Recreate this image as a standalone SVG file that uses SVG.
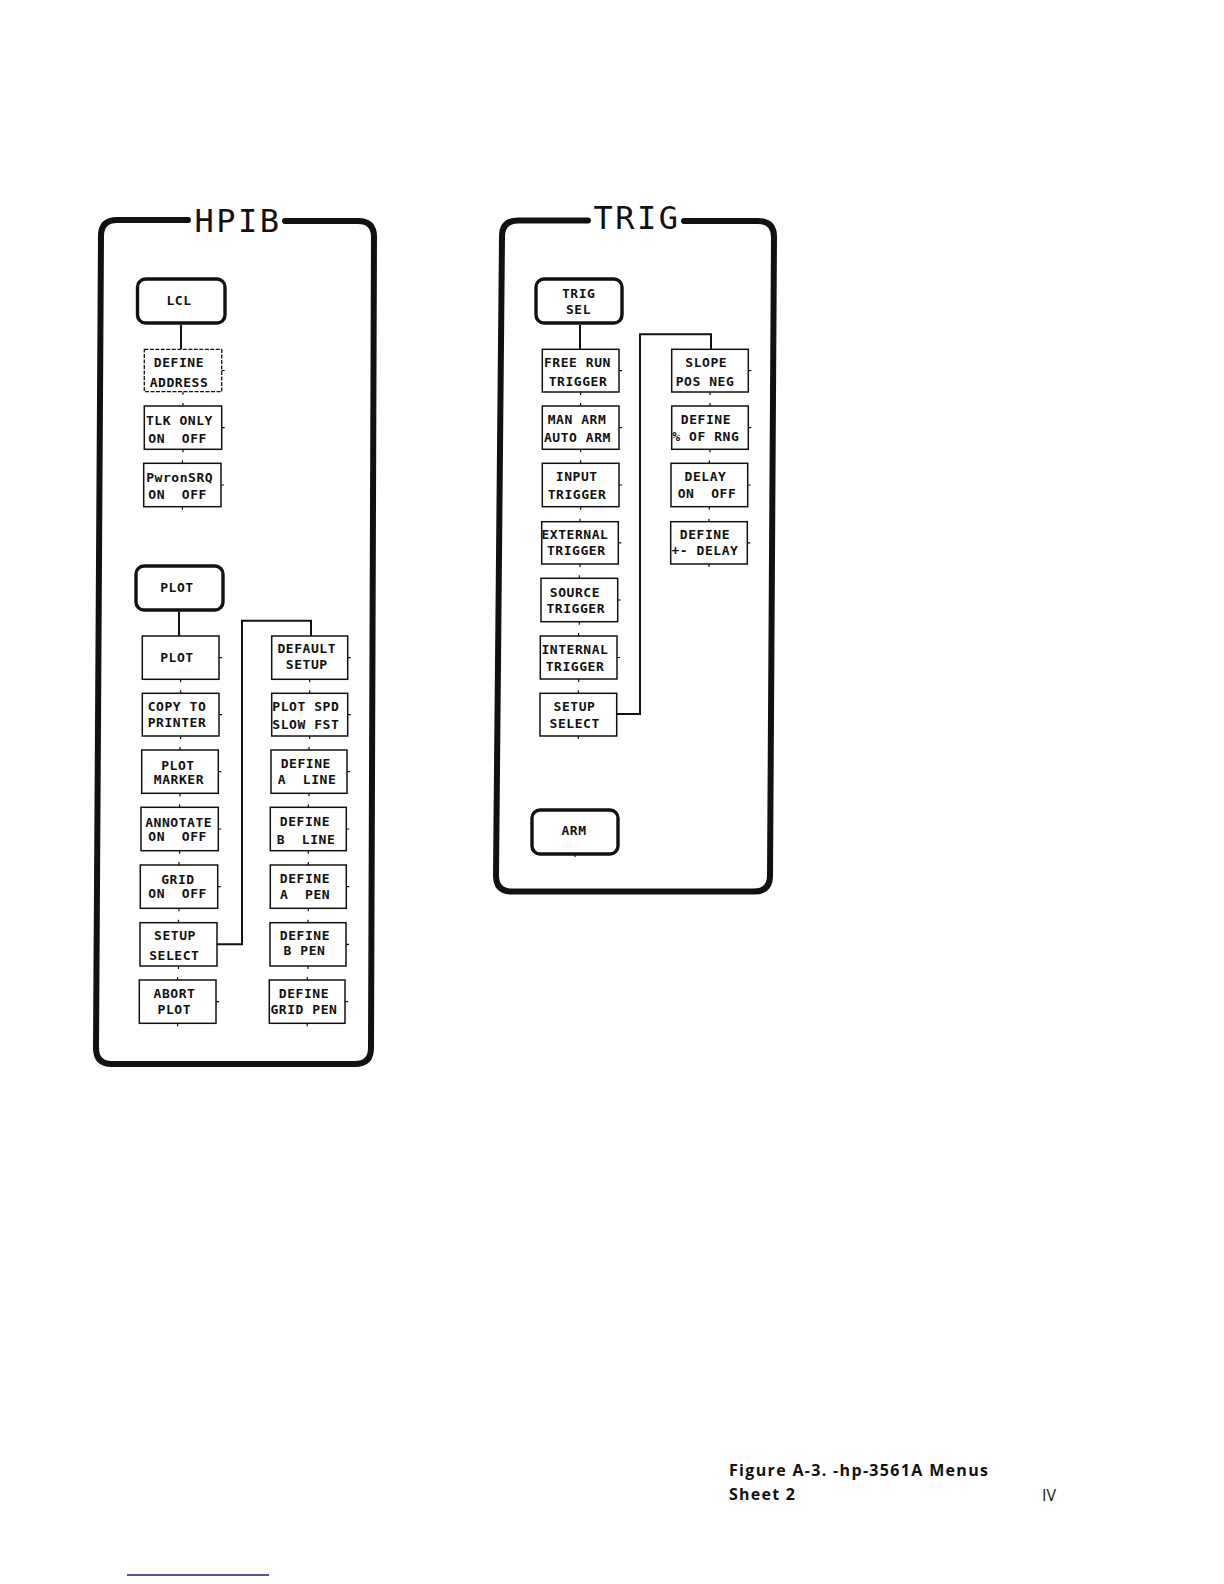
<svg xmlns="http://www.w3.org/2000/svg" width="1224" height="1584" viewBox="0 0 1224 1584">
<style>
.frame{fill:none;stroke:#111;stroke-width:6;stroke-linecap:round;stroke-linejoin:round}
.title{font-family:"DejaVu Sans Mono",monospace;font-size:32px;fill:#111;text-anchor:middle;letter-spacing:2.5px}
.hdr{fill:#fff;stroke:#111;stroke-width:3.4}
.box{fill:#fff;stroke:#111;stroke-width:1.5}
.dbox{fill:#fff;stroke:#111;stroke-width:1.3;stroke-dasharray:4 1.5}
.tick{fill:none;stroke:#111;stroke-width:1.2}
.lbl{font-family:"DejaVu Sans Mono",monospace;font-weight:bold;font-size:13px;letter-spacing:0.55px;fill:#111;text-anchor:middle;white-space:pre}
.wire{fill:none;stroke:#111;stroke-width:2}
.cap{font-family:"Open Sans","Liberation Sans",sans-serif;font-weight:bold;font-size:16px;fill:#111}
.capn{font-family:"Open Sans","Liberation Sans",sans-serif;font-weight:normal;font-size:16px;fill:#111}
</style>
<rect width="1224" height="1584" fill="#fff"/>

<g id="hpib-panel">
<path class="frame" d="M188,220 L117,220 Q101,220 101,236 L96,1048 Q96,1064 112,1064 L355,1064 Q371,1064 371,1048 L374,237 Q374,221 358,221 L285,221"/>
<text class="title" x="238" y="231.5">HPIB</text>
</g>

<g id="trig-panel">
<path class="frame" d="M588,220.5 L518,220.5 Q502,220.5 502,236.5 L496,875.5 Q496,891.5 512,891.5 L754,891.5 Q770,891.5 770,875.5 L774,237 Q774,221 758,221 L684,221"/>
<text class="title" x="637" y="228.5">TRIG</text>
</g>

<g id="connectors">
<path class="wire" d="M181,325 V349.5"/>
<path class="wire" d="M179,611.5 V636"/>
<path class="wire" d="M215,944.3 H242 V620.7 H311 V636"/>
<path class="wire" d="M580,325 V349.5"/>
<path class="wire" d="M615,714 H640 V334.3 H711 V349.5"/>
</g>

<g id="node-lcl">
<rect class="hdr" x="137.5" y="279" width="87.5" height="44" rx="8"/>
<text class="lbl" x="179" y="305">LCL</text>
</g>
<g id="node-define-address">
<rect class="dbox" x="144.3" y="349.3" width="77.4" height="42.4"/>
<path class="tick" d="M221.7,370.5 h3 M183,391.7 v3"/>
<text class="lbl" x="179" y="367">DEFINE</text>
<text class="lbl" x="179" y="387">ADDRESS</text>
</g>
<g id="node-tlk-only">
<rect class="box" x="144.3" y="406" width="77.4" height="43.3"/>
<path class="tick" d="M183,403 v3 M221.7,427.6 h3 M183,449.3 v3"/>
<text class="lbl" x="179.5" y="424.5">TLK ONLY</text>
<text class="lbl" x="177.6" y="442.5" xml:space="preserve">ON  OFF</text>
</g>
<g id="node-pwronsrq">
<rect class="box" x="143.7" y="463.3" width="77.3" height="43.4"/>
<path class="tick" d="M182.4,460.3 v3 M221,485 h3 M182.4,506.7 v3"/>
<text class="lbl" x="179.7" y="481.5">PwronSRQ</text>
<text class="lbl" x="177.6" y="499" xml:space="preserve">ON  OFF</text>
</g>

<g id="node-plot-menu">
<rect class="hdr" x="136" y="566" width="87" height="44" rx="8"/>
<text class="lbl" x="177" y="591.5">PLOT</text>
</g>
<g id="node-plot">
<rect class="box" x="142.3" y="636" width="76.7" height="43.3"/>
<path class="tick" d="M219,657.6 h3 M180.6,679.3 v3"/>
<text class="lbl" x="177" y="662">PLOT</text>
</g>
<g id="node-copy-to-printer">
<rect class="box" x="142.3" y="693.3" width="76.7" height="42.7"/>
<path class="tick" d="M180.6,690.3 v3 M219,714.6 h3 M180.6,736 v3"/>
<text class="lbl" x="177" y="711">COPY TO</text>
<text class="lbl" x="177" y="727">PRINTER</text>
</g>
<g id="node-plot-marker">
<rect class="box" x="141.7" y="750" width="76.6" height="43.3"/>
<path class="tick" d="M180,747 v3 M218.3,771.6 h3 M180,793.3 v3"/>
<text class="lbl" x="178" y="769.5">PLOT</text>
<text class="lbl" x="179" y="783.5">MARKER</text>
</g>
<g id="node-annotate">
<rect class="box" x="141" y="807.3" width="77.3" height="43.4"/>
<path class="tick" d="M179.6,804.3 v3 M218.3,829 h3 M179.6,850.7 v3"/>
<text class="lbl" x="178.7" y="827">ANNOTATE</text>
<text class="lbl" x="177.6" y="841" xml:space="preserve">ON  OFF</text>
</g>
<g id="node-grid">
<rect class="box" x="140.3" y="865" width="77.4" height="43.3"/>
<path class="tick" d="M179,862 v3 M217.7,886.6 h3 M179,908.3 v3"/>
<text class="lbl" x="178" y="883.5">GRID</text>
<text class="lbl" x="177.6" y="897.5" xml:space="preserve">ON  OFF</text>
</g>
<g id="node-setup-select-plot">
<rect class="box" x="140" y="922.7" width="77" height="43.3"/>
<path class="tick" d="M178.5,919.7 v3 M178.5,966 v3"/>
<text class="lbl" x="175" y="940">SETUP</text>
<text class="lbl" x="174.3" y="960">SELECT</text>
</g>
<g id="node-abort-plot">
<rect class="box" x="139.3" y="980" width="76.7" height="43.3"/>
<path class="tick" d="M177.6,977 v3 M216,1001.6 h3 M177.6,1023.3 v3"/>
<text class="lbl" x="174.5" y="997.5">ABORT</text>
<text class="lbl" x="174.3" y="1013.5">PLOT</text>
</g>

<g id="node-default-setup">
<rect class="box" x="271.7" y="636" width="76" height="43.3"/>
<path class="tick" d="M347.7,657.6 h3 M309.7,679.3 v3"/>
<text class="lbl" x="306.7" y="653">DEFAULT</text>
<text class="lbl" x="306.7" y="669">SETUP</text>
</g>
<g id="node-plot-spd">
<rect class="box" x="271.7" y="693.3" width="76" height="42.7"/>
<path class="tick" d="M309.7,690.3 v3 M347.7,714.6 h3 M309.7,736 v3"/>
<text class="lbl" x="305.8" y="711">PLOT SPD</text>
<text class="lbl" x="305.8" y="729">SLOW FST</text>
</g>
<g id="node-define-a-line">
<rect class="box" x="271" y="750" width="76" height="43.3"/>
<path class="tick" d="M309,747 v3 M347,771.6 h3 M309,793.3 v3"/>
<text class="lbl" x="305.8" y="768">DEFINE</text>
<text class="lbl" x="307" y="783.5" xml:space="preserve">A  LINE</text>
</g>
<g id="node-define-b-line">
<rect class="box" x="270.3" y="807.3" width="76" height="43.4"/>
<path class="tick" d="M308.3,804.3 v3 M346.3,829 h3 M308.3,850.7 v3"/>
<text class="lbl" x="305" y="826">DEFINE</text>
<text class="lbl" x="306" y="844" xml:space="preserve">B  LINE</text>
</g>
<g id="node-define-a-pen">
<rect class="box" x="270.3" y="865" width="76" height="43.3"/>
<path class="tick" d="M308.3,862 v3 M346.3,886.6 h3 M308.3,908.3 v3"/>
<text class="lbl" x="305" y="882.5">DEFINE</text>
<text class="lbl" x="305.1" y="898.5" xml:space="preserve">A  PEN</text>
</g>
<g id="node-define-b-pen">
<rect class="box" x="270" y="922.7" width="76" height="43.3"/>
<path class="tick" d="M308,919.7 v3 M346,944.3 h3 M308,966 v3"/>
<text class="lbl" x="305" y="940">DEFINE</text>
<text class="lbl" x="304.5" y="955">B PEN</text>
</g>
<g id="node-define-grid-pen">
<rect class="box" x="269.3" y="980" width="75.7" height="43.3"/>
<path class="tick" d="M307.2,977 v3 M345,1001.6 h3 M307.2,1023.3 v3"/>
<text class="lbl" x="304" y="997.5">DEFINE</text>
<text class="lbl" x="304" y="1013.5">GRID PEN</text>
</g>

<g id="node-trig-sel">
<rect class="hdr" x="536" y="279" width="86" height="44" rx="8"/>
<text class="lbl" x="578.7" y="297.6">TRIG</text>
<text class="lbl" x="578.5" y="313.7">SEL</text>
</g>
<g id="node-free-run">
<rect class="box" x="542.3" y="349.3" width="76.7" height="42.7"/>
<path class="tick" d="M619,370.6 h3 M580.6,392 v3"/>
<text class="lbl" x="577.5" y="367.3">FREE RUN</text>
<text class="lbl" x="578" y="386.4">TRIGGER</text>
</g>
<g id="node-man-arm">
<rect class="box" x="542.3" y="406" width="76.7" height="43.3"/>
<path class="tick" d="M580.6,403 v3 M619,427.6 h3 M580.6,449.3 v3"/>
<text class="lbl" x="577" y="424">MAN ARM</text>
<text class="lbl" x="577.5" y="442">AUTO ARM</text>
</g>
<g id="node-input-trigger">
<rect class="box" x="542.3" y="463.3" width="76.7" height="43.4"/>
<path class="tick" d="M580.6,460.3 v3 M619,485 h3 M580.6,506.7 v3"/>
<text class="lbl" x="576.7" y="481.4">INPUT</text>
<text class="lbl" x="577" y="498.5">TRIGGER</text>
</g>
<g id="node-external-trigger">
<rect class="box" x="541.7" y="521.7" width="76.6" height="42.3"/>
<path class="tick" d="M580,518.7 v3 M618.3,542.8 h3 M580,564 v3"/>
<text class="lbl" x="575" y="539">EXTERNAL</text>
<text class="lbl" x="576.3" y="555">TRIGGER</text>
</g>
<g id="node-source-trigger">
<rect class="box" x="541" y="578.3" width="76.7" height="43.4"/>
<path class="tick" d="M579.3,575.3 v3 M617.7,600 h3 M579.3,621.7 v3"/>
<text class="lbl" x="575" y="596.5">SOURCE</text>
<text class="lbl" x="575.8" y="612.7">TRIGGER</text>
</g>
<g id="node-internal-trigger">
<rect class="box" x="540.3" y="636" width="76.7" height="43"/>
<path class="tick" d="M578.6,633 v3 M617,657.5 h3 M578.6,679 v3"/>
<text class="lbl" x="575" y="654">INTERNAL</text>
<text class="lbl" x="575" y="671.2">TRIGGER</text>
</g>
<g id="node-setup-select-trig">
<rect class="box" x="540" y="693.3" width="76.7" height="42.7"/>
<path class="tick" d="M578.3,690.3 v3 M578.3,736 v3"/>
<text class="lbl" x="574.5" y="710.6">SETUP</text>
<text class="lbl" x="574.7" y="727.8">SELECT</text>
</g>
<g id="node-slope">
<rect class="box" x="671.7" y="349.3" width="76.6" height="42.7"/>
<path class="tick" d="M748.3,370.6 h3 M710,392 v3"/>
<text class="lbl" x="706.3" y="367.3">SLOPE</text>
<text class="lbl" x="705" y="386.4">POS NEG</text>
</g>
<g id="node-define-pct">
<rect class="box" x="671.7" y="406" width="76.6" height="43.3"/>
<path class="tick" d="M710,403 v3 M748.3,427.6 h3 M710,449.3 v3"/>
<text class="lbl" x="706" y="424">DEFINE</text>
<text class="lbl" x="705.8" y="441">% OF RNG</text>
</g>
<g id="node-delay">
<rect class="box" x="671" y="463.3" width="76.7" height="43.4"/>
<path class="tick" d="M709.3,460.3 v3 M747.7,485 h3 M709.3,506.7 v3"/>
<text class="lbl" x="705.5" y="481.4">DELAY</text>
<text class="lbl" x="707" y="497.5" xml:space="preserve">ON  OFF</text>
</g>
<g id="node-define-delay">
<rect class="box" x="670.7" y="521.7" width="76.6" height="42.3"/>
<path class="tick" d="M709,518.7 v3 M747.3,542.8 h3 M709,564 v3"/>
<text class="lbl" x="705" y="539">DEFINE</text>
<text class="lbl" x="705" y="555">+- DELAY</text>
</g>
<g id="node-arm">
<rect class="hdr" x="532" y="810" width="86" height="44" rx="8"/>
<path class="tick" d="M575,854 v3"/>
<text class="lbl" x="574" y="834.7">ARM</text>
</g>

<g id="caption">
<text class="cap" x="729" y="1476" textLength="259" lengthAdjust="spacing">Figure A-3. -hp-3561A Menus</text>
<text class="cap" x="729" y="1500" textLength="66" lengthAdjust="spacing">Sheet 2</text>
<text class="capn" x="1042" y="1501">IV</text>
</g>
<line x1="127" y1="1575" x2="269" y2="1575" stroke="#1a1a8a" stroke-width="1.5"/>
</svg>
